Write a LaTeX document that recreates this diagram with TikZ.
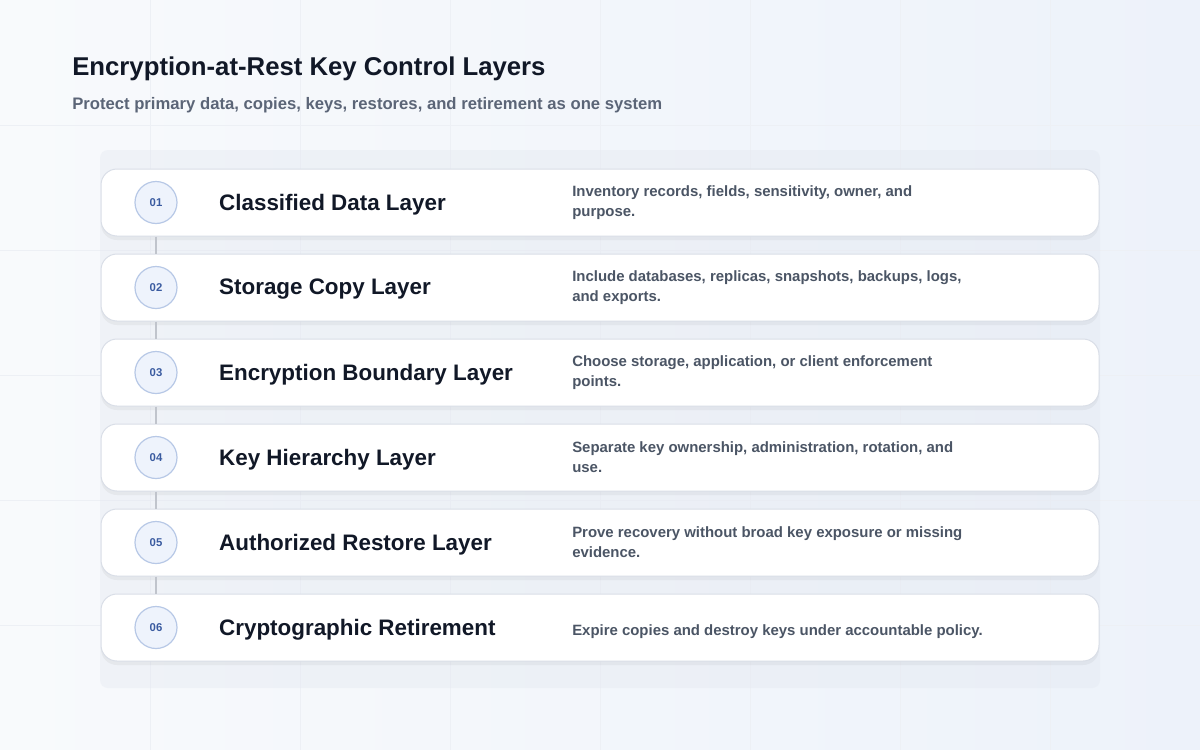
\documentclass[tikz,border=0pt]{standalone}
\usepackage{fontspec}
\setmainfont{Liberation Sans}
\usetikzlibrary{positioning,shadows}

\definecolor{titleink}{HTML}{111827}
\definecolor{subink}{HTML}{5B6577}
\definecolor{descink}{HTML}{4B5565}
\definecolor{cardline}{HTML}{D9DEE7}
\definecolor{badgefill}{HTML}{EEF3FC}
\definecolor{badgeline}{HTML}{B7C8E6}
\definecolor{badgeink}{HTML}{3A5BA0}
\definecolor{linkgray}{HTML}{C0C4CC}
\definecolor{gridline}{HTML}{EDF0F5}
\definecolor{bgleft}{HTML}{F8FAFC}
\definecolor{bgright}{HTML}{EDF2FA}
\definecolor{panel}{HTML}{E3E8F0}

\tikzset{
	card/.style={draw=cardline, line width=0.75pt, fill=white, rounded corners=12pt,
		minimum width=748.5pt, minimum height=50.25pt,
		drop shadow={shadow xshift=0pt, shadow yshift=-3pt, opacity=0.06, fill=black!70}},
	badge/.style={circle, draw=badgeline, line width=0.9pt, fill=badgefill, minimum size=31.5pt,
		inner sep=0pt, text=badgeink, font=\fontsize{8.5}{10}\selectfont\bfseries},
	layertitle/.style={anchor=west, inner sep=0pt, text=titleink, font=\fontsize{16.8}{20}\selectfont\bfseries},
	desc/.style={anchor=west, inner sep=0pt, align=left, text=descink, font=\fontsize{11.2}{15}\selectfont\bfseries},
	link/.style={linkgray, line width=2.2pt},
}

\begin{document}
\begin{tikzpicture}[x=0.75pt, y=-0.75pt]
		% Background, grid and backdrop
		\useasboundingbox (0,0) rectangle (1200,750);
		\shade[left color=bgleft, right color=bgright] (0,0) rectangle (1200,750);
		\foreach \x in {150,300,...,1050} \draw[gridline, line width=0.6pt] (\x,0) -- (\x,750);
		\foreach \y in {125,250,...,625} \draw[gridline, line width=0.6pt] (0,\y) -- (1200,\y);
		\fill[panel, opacity=0.4, rounded corners=6pt] (100,150) rectangle (1100,688);
		% Heading
		\node[anchor=west, inner sep=0pt, text=titleink, font=\fontsize{19.3}{23}\selectfont\bfseries] (title) at (72,69) {Encryption-at-Rest Key Control Layers};
		\node[anchor=west, inner sep=0pt, text=subink, font=\fontsize{12.5}{15}\selectfont\bfseries] (subtitle) at (72,105) {Protect primary data, copies, keys, restores, and retirement as one system};
		% Layer cards
		\foreach \i/\name/\desc/\dy in {
			1/Classified Data Layer/{Inventory records, fields, sensitivity, owner, and\\purpose.}/0,
			2/Storage Copy Layer/{Include databases, replicas, snapshots, backups, logs,\\and exports.}/0,
			3/Encryption Boundary Layer/{Choose storage, application, or client enforcement\\points.}/0,
			4/Key Hierarchy Layer/{Separate key ownership, administration, rotation, and\\use.}/0,
			5/Authorized Restore Layer/{Prove recovery without broad key exposure or missing\\evidence.}/0,
			6/Cryptographic Retirement/{Expire copies and destroy keys under accountable policy.}/4} {
			\pgfmathsetmacro\cy{117.5+85*\i}
			\node[card] (card\i) at (600,\cy) {};
			\node[badge] (badge\i) at (156,\cy) {0\i};
			\node[layertitle, right=31pt of badge\i, yshift=-1.5pt] (name\i) {\name};
			\node[desc] (desc\i) at (572,\cy+\dy) {\desc};
		}
		% Links between badges
		\foreach \i [evaluate=\i as \j using int(\i+1)] in {1,...,5}
			\draw[link] (card\i.south -| badge\i) -- (card\j.north -| badge\j);
	\end{tikzpicture}
\end{document}
